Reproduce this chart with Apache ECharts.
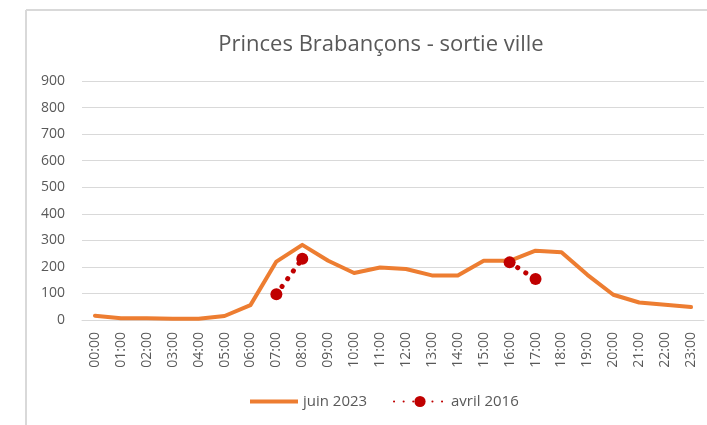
<!DOCTYPE html>
<html>
<head>
<meta charset="utf-8">
<script src="https://cdn.jsdelivr.net/npm/echarts@6/dist/echarts.min.js"></script>
<style>
  html, body { margin: 0; padding: 0; background: #fff; }
  #chart { width: 707px; height: 425px; }
</style>
</head>
<body>
<div id="chart"></div>
<script>
// Hourly counts, outbound traffic
const hours = ['00:00','01:00','02:00','03:00','04:00','05:00','06:00','07:00','08:00','09:00','10:00','11:00',
               '12:00','13:00','14:00','15:00','16:00','17:00','18:00','19:00','20:00','21:00','22:00','23:00'];
const juin2023 = [16, 7, 7, 5, 5, 15, 56, 220, 283, 223, 177, 198, 192, 168, 168, 223, 223, 261, 255, 170, 95, 66, 57, 49];
const avril2016 = [null, null, null, null, null, null, null, 97, 231, null, null, null,
                   null, null, null, null, 217, 154, null, null, null, null, null, null];
const yTicks = [0, 100, 200, 300, 400, 500, 600, 700, 800, 900];

const chart = echarts.init(document.getElementById('chart'), null, { renderer: 'canvas' });
const textColor = '#595959';
const font = '"Open Sans", "Noto Sans", sans-serif';
const orange = '#ED7D31';
const red = '#C00000';

chart.setOption({
  animation: false,
  backgroundColor: '#ffffff',
  title: {
    text: 'Princes Brabançons - sortie ville',
    left: 376,
    top: 29,
    textAlign: 'center',
    textStyle: { color: textColor, fontSize: 22, fontWeight: 'normal', fontFamily: font }
  },
  graphic: [
    { type: 'line', shape: { x1: 26, y1: 10, x2: 707, y2: 10 }, style: { stroke: '#d9d9d9', lineWidth: 2 } },
    { type: 'line', shape: { x1: 26, y1: 10, x2: 26, y2: 425 }, style: { stroke: '#d9d9d9', lineWidth: 2 } }
  ],
  grid: { left: 82, right: 3, top: 81, height: 239, containLabel: false },
  legend: [
    {
      left: 245,
      top: 389,
      itemWidth: 48,
      itemHeight: 4,
      itemGap: 5,
      icon: 'rect',
      textStyle: { color: textColor, fontSize: 15, fontFamily: font },
      data: ['juin 2023']
    },
    {
      left: 388,
      top: 389,
      itemWidth: 52,
      itemHeight: 14,
      itemGap: 5,
      textStyle: { color: textColor, fontSize: 15, fontFamily: font },
      data: ['avril 2016']
    }
  ],
  xAxis: {
    type: 'category',
    data: hours,
    boundaryGap: true,
    axisLine: { show: true, lineStyle: { color: '#d9d9d9', width: 1 } },
    axisTick: { show: false },
    axisLabel: { rotate: 90, color: textColor, fontSize: 14, fontFamily: font, margin: 12 }
  },
  yAxis: {
    type: 'value',
    min: yTicks[0],
    max: yTicks[yTicks.length - 1],
    interval: 100,
    axisLine: { show: false },
    axisTick: { show: false },
    splitLine: { lineStyle: { color: '#d9d9d9', width: 1 } },
    axisLabel: { color: textColor, fontSize: 14, fontFamily: font, margin: 17 }
  },
  series: [
    {
      name: 'juin 2023',
      type: 'line',
      data: juin2023,
      showSymbol: false,
      symbol: 'none',
      itemStyle: { color: orange },
      lineStyle: { color: orange, width: 4, cap: 'round', join: 'round' },
      z: 2
    },
    {
      name: 'avril 2016',
      type: 'line',
      data: avril2016,
      connectNulls: false,
      symbol: 'circle',
      symbolSize: 12,
      showSymbol: true,
      itemStyle: { color: red },
      lineStyle: { color: red, width: 5, type: [0.1, 9.5], cap: 'round' },
      z: 3
    }
  ]
});
</script>
</body>
</html>
